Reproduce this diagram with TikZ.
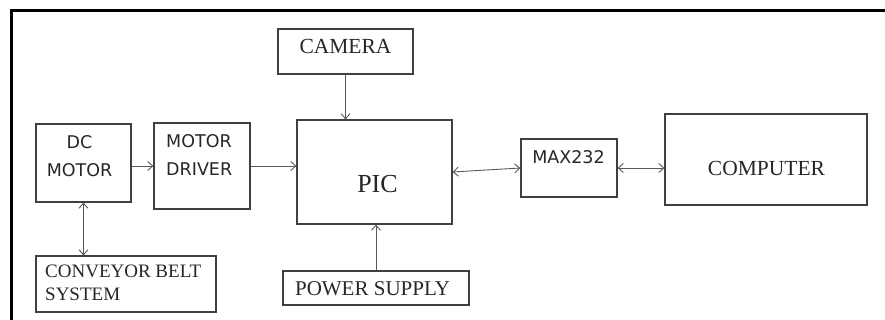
\documentclass[tikz,border=0pt]{standalone}
\usepackage{fontspec}
\setmainfont{Liberation Serif}
\newfontfamily\blocksans{DejaVu Sans}
\usetikzlibrary{arrows.meta}

\tikzset{
  block/.style={draw=black!75, line width=1.2pt, inner sep=0pt},
  lbl/.style={inner sep=0pt, text=black!85},
  link/.style={draw=black!65, line width=0.9pt, -{Straight Barb[length=5pt,width=9pt]}},
  dlink/.style={link, {Straight Barb[length=5pt,width=9pt]}-{Straight Barb[length=5pt,width=9pt]}},
}
\newcommand{\sansbig}{\blocksans\fontsize{17.5}{28}\selectfont}

\begin{document}
\begin{tikzpicture}[x=1pt,y=-1pt]
    \useasboundingbox (0,0) rectangle (885,320);

    % Outer frame (top and left only)
    \draw[line width=2.5pt] (885,10.5) -- (11.5,10.5) -- (11.5,320);

    % Blocks
    \node[block, minimum width=95, minimum height=78] (dcmotor) at (83.5,163) {};
    \node[block, minimum width=96, minimum height=86] (driver) at (202,166) {};
    \node[block, minimum width=135, minimum height=45] (camera) at (345.5,51.5) {};
    \node[block, minimum width=155, minimum height=104] (pic) at (374.5,172) {};
    \node[block, minimum width=96, minimum height=58] (max) at (569,168) {};
    \node[block, minimum width=202, minimum height=91] (computer) at (766,159.5) {};
    \node[block, minimum width=186, minimum height=34] (power) at (376,288) {};
    \node[block, minimum width=180, minimum height=56] (conveyor) at (126,284) {};

    % Labels
    \node[lbl, align=center, font=\sansbig] (dctext) at (79.5,156) {DC\\MOTOR};
    \node[lbl, align=left, anchor=west, font=\sansbig] (drivertext) at (166,155) {MOTOR\\DRIVER};
    \node[lbl, font=\sansbig] (maxtext) at (568.5,157) {MAX232};
    \node[lbl, font=\fontsize{21.5}{24}\selectfont] (cameratext) at (345.5,46) {CAMERA};
    \node[lbl, font=\fontsize{26}{30}\selectfont] (pictext) at (377.5,184) {PIC};
    \node[lbl, font=\fontsize{21.5}{24}\selectfont] (comptext) at (766.5,168.5) {COMPUTER};
    \node[lbl, font=\fontsize{21}{24}\selectfont] (powertext) at (372.5,288.5) {POWER SUPPLY};
    \node[lbl, align=left, anchor=west, font=\fontsize{19}{23}\selectfont] (convtext) at (45,283) {CONVEYOR BELT\\SYSTEM};

    % Connections
    \draw[link] (dcmotor.east |- driver) -- (driver.west);
    \draw[link] (driver.east) -- (driver.east -| pic.west);
    \draw[link] (camera.south) -- (camera.south |- pic.north);
    \draw[link] (power.north) -- (power.north |- pic.south);
    \draw[dlink] (pic.east) -- (max.west);
    \draw[dlink] (max.east) -- (max.east -| computer.west);
    \draw[dlink] (dcmotor.south) -- (dcmotor.south |- conveyor.north);
\end{tikzpicture}
\end{document}
